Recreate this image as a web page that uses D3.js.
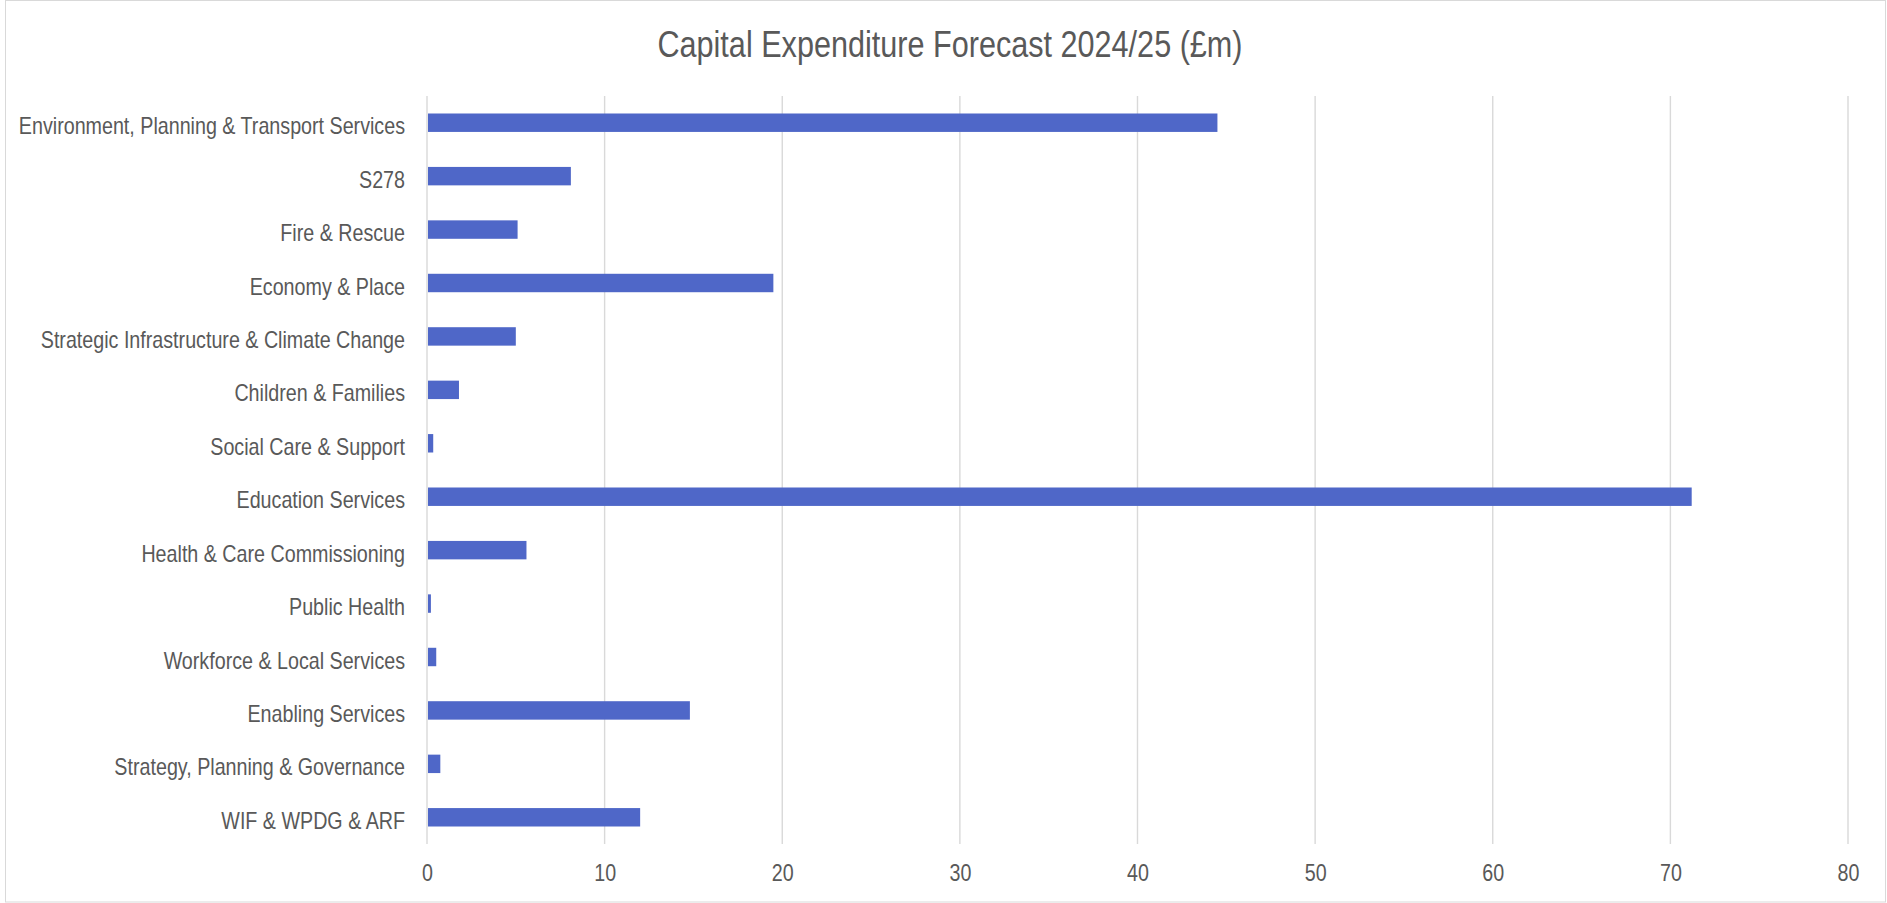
<!DOCTYPE html>
<html>
<head>
<meta charset="utf-8">
<script src="https://cdn.jsdelivr.net/npm/d3@7"></script>
<style>
  body { margin: 0; background: #fff; }
  svg text { font-family: "Liberation Sans", Arial, sans-serif; fill: #595959; }
</style>
</head>
<body>
<svg id="chart"></svg>
<script>
// Chart data.
const chartTitle = "Capital Expenditure Forecast 2024/25 (£m)";
const categories = [
    "Environment, Planning & Transport Services",
    "S278",
    "Fire & Rescue",
    "Economy & Place",
    "Strategic Infrastructure & Climate Change",
    "Children & Families",
    "Social Care & Support",
    "Education Services",
    "Health & Care Commissioning",
    "Public Health",
    "Workforce & Local Services",
    "Enabling Services",
    "Strategy, Planning & Governance",
    "WIF & WPDG & ARF"
];
const values = [44.5, 8.1, 5.1, 19.5, 5.0, 1.8, 0.35, 71.2, 5.6, 0.22, 0.52, 14.8, 0.75, 12.0];
const xTicks = [0, 10, 20, 30, 40, 50, 60, 70, 80];

const width = 1887, height = 903;
const margin = { top: 96, right: 39, bottom: 59, left: 427 };
const innerW = width - margin.left - margin.right;
const innerH = height - margin.top - margin.bottom;

// The original uses a narrow face; squeeze the regular one to match.
function narrow(sel, factor) {
    sel.each(function () {
        const w = this.getComputedTextLength();
        d3.select(this)
            .attr("textLength", w * factor)
            .attr("lengthAdjust", "spacingAndGlyphs");
    });
}

const svg = d3.select("#chart").attr("width", width).attr("height", height);

// outer chart border
svg.append("rect")
    .attr("x", 5.5).attr("y", 0.5)
    .attr("width", 1880).attr("height", 901.5)
    .attr("fill", "#fff")
    .attr("stroke", "#d9d9d9")
    .attr("stroke-width", 1);

svg.append("text")
    .attr("x", 950).attr("y", 57)
    .attr("text-anchor", "middle")
    .style("font-size", "36px")
    .text(chartTitle)
    .call(narrow, 0.85);

const x = d3.scaleLinear().domain([0, 80]).range([0, innerW]);
const y = d3.scaleBand().domain(categories).range([0, innerH]).paddingInner(0.655).paddingOuter(0.3275);

const g = svg.append("g").attr("transform", `translate(${margin.left},${margin.top})`);

// vertical gridlines
g.selectAll("line.grid")
    .data(xTicks)
    .join("line")
    .attr("class", "grid")
    .attr("x1", d => x(d)).attr("x2", d => x(d))
    .attr("y1", 0).attr("y2", innerH)
    .attr("stroke", "#d9d9d9")
    .attr("stroke-width", 1.4);

// bars
g.selectAll("rect.bar")
    .data(values)
    .join("rect")
    .attr("class", "bar")
    .attr("x", x(0) + 1)
    .attr("y", (d, i) => y(categories[i]))
    .attr("width", d => Math.max(0, x(d) - x(0) - 1))
    .attr("height", y.bandwidth())
    .attr("fill", "#4f67c8");

// x axis labels
const xAxis = d3.axisBottom(x).tickValues(xTicks).tickSize(0).tickPadding(20);
g.append("g")
    .attr("transform", `translate(0,${innerH})`)
    .call(xAxis)
    .call(a => a.select(".domain").remove())
    .call(a => a.selectAll("text")
        .style("font-size", "24px").style("font-family", null).attr("fill", "#595959")
        .call(narrow, 0.82));

// category labels
const yAxis = d3.axisLeft(y).tickSize(0).tickPadding(22);
g.append("g")
    .call(yAxis)
    .call(a => a.select(".domain").remove())
    .call(a => a.selectAll("text")
        .style("font-size", "24px").attr("fill", "#595959").attr("dy", "0.48em")
        .call(narrow, 0.82));
</script>
</body>
</html>
